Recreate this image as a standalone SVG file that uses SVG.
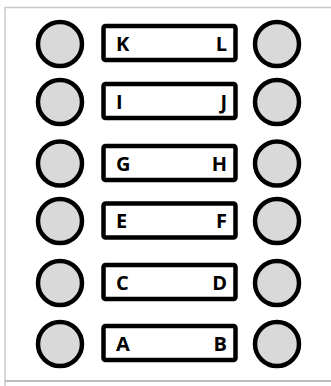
<svg xmlns="http://www.w3.org/2000/svg" width="331" height="386" viewBox="0 0 331 386">
<style>
.frame{stroke:#c8c8c8;stroke-width:1.5;fill:none}
.port{fill:#d9d9d9;stroke:#000;stroke-width:4.5}
.box{fill:#fff;stroke:#000;stroke-width:4.5}
.lbl{font-family:"Open Sans","Liberation Sans",sans-serif;font-weight:700;font-size:20px;fill:#000}
.r{text-anchor:end}
</style>
<rect width="331" height="386" fill="#fff"/>
<g id="frame">
<line class="frame" x1="5" y1="7.5" x2="331" y2="7.5"/>
<line class="frame" x1="5" y1="7" x2="5" y2="386"/>
<line x1="5" y1="381" x2="331" y2="381" stroke="#bdbdbd" stroke-width="2"/>
</g>
<g id="connectors"></g>
<g id="row-KL">
<circle class="port" cx="60" cy="44" r="22"/>
<rect class="box" x="103.5" y="26" width="132" height="34" rx="2"/>
<text class="lbl" x="116" y="51">K</text>
<text class="lbl r" x="227" y="51">L</text>
<circle class="port" cx="277" cy="44" r="22"/>
</g>
<g id="row-IJ">
<circle class="port" cx="60" cy="102" r="22"/>
<rect class="box" x="103.5" y="84" width="132" height="34" rx="2"/>
<text class="lbl" x="116" y="109">I</text>
<text class="lbl r" x="227" y="109">J</text>
<circle class="port" cx="277" cy="102" r="22"/>
</g>
<g id="row-GH">
<circle class="port" cx="60" cy="163.5" r="22"/>
<rect class="box" x="103.5" y="146" width="132" height="34" rx="2"/>
<text class="lbl" x="116" y="170.5">G</text>
<text class="lbl r" x="227" y="170.5">H</text>
<circle class="port" cx="277" cy="163.5" r="22"/>
</g>
<g id="row-EF">
<circle class="port" cx="60" cy="221" r="22"/>
<rect class="box" x="103.5" y="203.5" width="132" height="34" rx="2"/>
<text class="lbl" x="116" y="228">E</text>
<text class="lbl r" x="227" y="228">F</text>
<circle class="port" cx="277" cy="221" r="22"/>
</g>
<g id="row-CD">
<circle class="port" cx="60" cy="283" r="22"/>
<rect class="box" x="103.5" y="265" width="132" height="34" rx="2"/>
<text class="lbl" x="116" y="289.5">C</text>
<text class="lbl r" x="227" y="289.5">D</text>
<circle class="port" cx="277" cy="283" r="22"/>
</g>
<g id="row-AB">
<circle class="port" cx="60" cy="344" r="22"/>
<rect class="box" x="103.5" y="326" width="132" height="34" rx="2"/>
<text class="lbl" x="116" y="350.5">A</text>
<text class="lbl r" x="227" y="350.5">B</text>
<circle class="port" cx="277" cy="344" r="22"/>
</g>
</svg>
